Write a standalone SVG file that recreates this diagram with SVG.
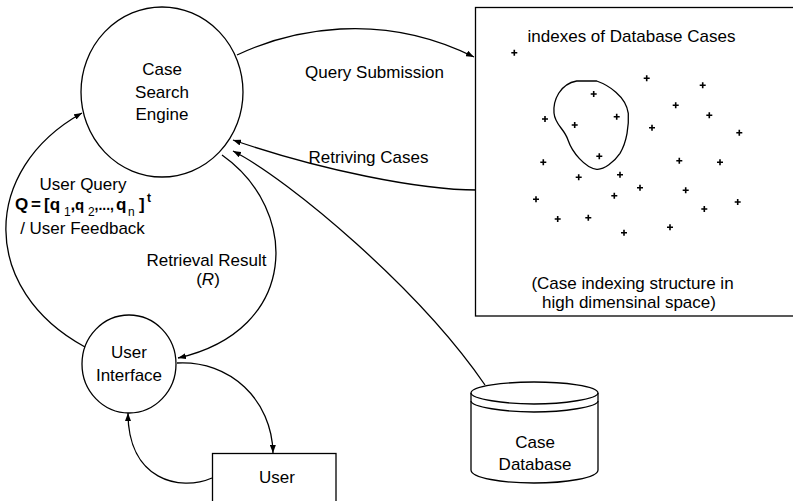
<svg xmlns="http://www.w3.org/2000/svg" xmlns:xlink="http://www.w3.org/1999/xlink" width="793" height="501" viewBox="0 0 793 501">
  <style>
    .shape { fill: #fff; stroke: #000; stroke-width: 1.3; }
    .line { fill: none; stroke: #000; stroke-width: 1.3; }
    .lbl { font-family: "Liberation Sans", Arial, sans-serif; font-size: 17px; fill: #000; }
    .mid { text-anchor: middle; }
    .pt { stroke: #000; stroke-width: 1.6; fill: none; }
  </style>
  <defs>
    <marker id="ah" viewBox="0 0 8 6" refX="8" refY="3" markerWidth="8" markerHeight="6" markerUnits="userSpaceOnUse" orient="auto">
      <path d="M0,0 L8,3 L0,6 z" fill="#000"/>
    </marker>
    <path id="plus" class="pt" d="M-3,0 H3 M0,-3 V3"/>
  </defs>

  <!-- connectors -->
  <g id="connectors">
    <path class="line" d="M237,55 C290,30 380,10 474,57" marker-end="url(#ah)"/>
    <path class="line" d="M477,190 C420,190 320,170 233,140" marker-end="url(#ah)"/>
    <path class="line" d="M485,385 C420,290 290,180 233,151" marker-end="url(#ah)"/>
    <path class="line" d="M222,155 C300,210 300,330 178,358" marker-end="url(#ah)"/>
    <path class="line" d="M85,347 C-20,290 -20,170 82,113" marker-end="url(#ah)"/>
    <path class="line" d="M177,363 C230,360 272,400 273,453" marker-end="url(#ah)"/>
    <path class="line" d="M212,478 C180,492 128,480 128,413" marker-end="url(#ah)"/>
  </g>

  <!-- case search engine -->
  <g id="engine">
    <ellipse class="shape" cx="162" cy="92" rx="81" ry="85"/>
    <text class="lbl mid" x="162" y="75">Case</text>
    <text class="lbl mid" x="162" y="97.5">Search</text>
    <text class="lbl mid" x="162" y="120">Engine</text>
  </g>

  <!-- user interface -->
  <g id="user-interface">
    <ellipse class="shape" cx="129" cy="364" rx="47" ry="49"/>
    <text class="lbl mid" x="129" y="358">User</text>
    <text class="lbl mid" x="129" y="381">Interface</text>
  </g>

  <!-- user -->
  <g id="user">
    <rect class="shape" x="212.5" y="453.5" width="123.5" height="60"/>
    <text class="lbl mid" x="277" y="483">User</text>
  </g>

  <!-- case database -->
  <g id="database">
    <path class="shape" d="M471,393 C471,386 505,382 534,382 C563,382 598,386 598,393 L598,470 C598,478 565,483 534,483 C503,483 471,478 471,470 Z"/>
    <path class="line" d="M471,393 C471,399 505,404 534,404 C563,404 598,399 598,393"/>
    <path class="line" d="M471,401 C471,407 505,412 534,412 C563,412 598,407 598,401"/>
    <text class="lbl mid" x="535" y="448">Case</text>
    <text class="lbl mid" x="535" y="470">Database</text>
  </g>

  <!-- index space -->
  <g id="index-space">
    <rect class="shape" x="475.5" y="7.5" width="320" height="308.5"/>
    <text class="lbl mid" x="631.5" y="41.5">indexes of Database Cases</text>
    <path class="line" d="M576.7,81 L596.7,81 C608,85 626,96 628.3,113.3 C629,125 627,142 620,153.3 C614,162 604,170 596.7,169.3 C585,168 572,152 568,140 C564,128 555,125 554,113 C553,100 560,84 576.7,81 Z"/>
    <g id="points">
      <use xlink:href="#plus" x="514.3" y="52.7"/>
      <use xlink:href="#plus" x="646.7" y="78.3"/>
      <use xlink:href="#plus" x="702.7" y="85.3"/>
      <use xlink:href="#plus" x="593.7" y="94"/>
      <use xlink:href="#plus" x="675.7" y="105.3"/>
      <use xlink:href="#plus" x="545" y="119"/>
      <use xlink:href="#plus" x="574.7" y="125"/>
      <use xlink:href="#plus" x="616.7" y="116.7"/>
      <use xlink:href="#plus" x="709.3" y="115.3"/>
      <use xlink:href="#plus" x="652" y="127.7"/>
      <use xlink:href="#plus" x="739.3" y="132.7"/>
      <use xlink:href="#plus" x="543.3" y="162.3"/>
      <use xlink:href="#plus" x="599.3" y="156.3"/>
      <use xlink:href="#plus" x="679.3" y="160.7"/>
      <use xlink:href="#plus" x="720" y="162.3"/>
      <use xlink:href="#plus" x="578.7" y="177.3"/>
      <use xlink:href="#plus" x="620" y="174.7"/>
      <use xlink:href="#plus" x="640" y="187.7"/>
      <use xlink:href="#plus" x="685.7" y="190.3"/>
      <use xlink:href="#plus" x="536" y="199.3"/>
      <use xlink:href="#plus" x="614.3" y="195.7"/>
      <use xlink:href="#plus" x="737.7" y="202"/>
      <use xlink:href="#plus" x="704.3" y="209"/>
      <use xlink:href="#plus" x="557.7" y="219"/>
      <use xlink:href="#plus" x="588.3" y="217.7"/>
      <use xlink:href="#plus" x="624" y="232.7"/>
      <use xlink:href="#plus" x="670" y="227.3"/>
    </g>
    <text class="lbl mid" x="632.5" y="289">(Case indexing structure in</text>
    <text class="lbl mid" x="629" y="308">high dimensinal space)</text>
  </g>

  <!-- connector labels -->
  <g id="labels">
    <text class="lbl mid" x="374.5" y="77.5">Query Submission</text>
    <text class="lbl mid" x="368.5" y="162.5">Retriving Cases</text>
    <text class="lbl mid" x="83" y="189.5">User Query</text>
    <text class="lbl" font-weight="bold">
      <tspan x="15" y="210">Q</tspan>
      <tspan x="31" y="210">=</tspan>
      <tspan x="44" y="210">[q</tspan>
      <tspan x="64" y="216" font-size="12" font-weight="normal">1</tspan>
      <tspan x="70.5" y="210">,</tspan>
      <tspan x="75" y="210" font-size="15">q</tspan>
      <tspan x="88" y="216" font-size="12" font-weight="normal">2</tspan>
      <tspan x="94.5" y="210" font-size="14">,...,</tspan>
      <tspan x="116" y="210">q</tspan>
      <tspan x="128" y="216" font-size="12" font-weight="normal">n</tspan>
      <tspan x="139" y="210">]</tspan>
      <tspan x="147" y="202" font-size="12">t</tspan>
    </text>
    <text class="lbl mid" x="82.5" y="234">/ User Feedback</text>
    <text class="lbl mid" x="206.5" y="266">Retrieval Result</text>
    <text class="lbl mid" x="208" y="284.5">(<tspan font-style="italic">R</tspan>)</text>
  </g>
</svg>
